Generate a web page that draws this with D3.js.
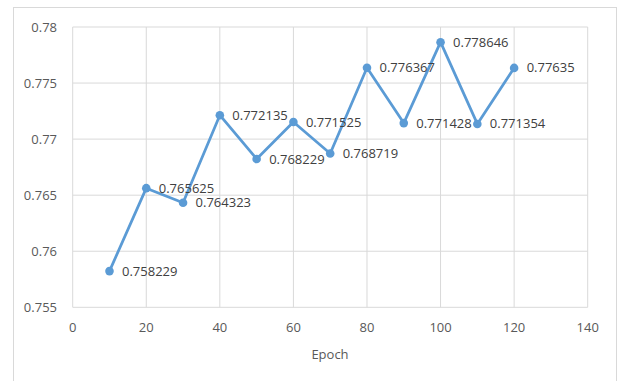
<!DOCTYPE html>
<html>
<head>
<meta charset="utf-8">
<script src="https://cdn.jsdelivr.net/npm/d3@7/dist/d3.min.js"></script>
<style>
html,body{margin:0;padding:0;background:#fff;}
svg{display:block;}
text{font-family:"Open Sans",sans-serif;}
</style>
</head>
<body>
<svg id="chart" width="618" height="381"></svg>
<script>
const epochs = [10, 20, 30, 40, 50, 60, 70, 80, 90, 100, 110, 120];
const values = [0.758229, 0.765625, 0.764323, 0.772135, 0.768229, 0.771525, 0.768719, 0.776367, 0.771428, 0.778646, 0.771354, 0.77635];
const labels = ["0.758229", "0.765625", "0.764323", "0.772135", "0.768229", "0.771525", "0.768719", "0.776367", "0.771428", "0.778646", "0.771354", "0.77635"];
const xTicks = [0, 20, 40, 60, 80, 100, 120, 140];
const yTicks = [0.755, 0.76, 0.765, 0.77, 0.775, 0.78];
const yTickLabels = ["0.755", "0.76", "0.765", "0.77", "0.775", "0.78"];
const xTitle = "Epoch";

const svg = d3.select("#chart");
// outer chart border
svg.append("rect").attr("x", 13.5).attr("y", 7.5).attr("width", 603).attr("height", 380)
  .attr("fill", "#fff").attr("stroke", "#d9d9d9").attr("stroke-width", 1);

const x = d3.scaleLinear().domain([0, 140]).range([72.7, 587.7]);
const y = d3.scaleLinear().domain([0.755, 0.78]).range([307.3, 27]);

const grid = svg.append("g");
grid.selectAll("line.h").data(yTicks).join("line")
  .attr("x1", x(0)).attr("x2", x(140))
  .attr("y1", d => y(d)).attr("y2", d => y(d))
  .attr("stroke", "#d9d9d9").attr("stroke-width", 1);
grid.selectAll("line.v").data(xTicks).join("line")
  .attr("y1", y(0.755)).attr("y2", y(0.78))
  .attr("x1", d => x(d)).attr("x2", d => x(d))
  .attr("stroke", "#d9d9d9").attr("stroke-width", 1);

// y axis labels
svg.append("g").selectAll("text").data(yTicks).join("text")
  .attr("x", 57).attr("y", d => y(d)).attr("dy", "0.35em")
  .attr("text-anchor", "end").attr("font-size", 13).attr("fill", "#595959")
  .text((d, i) => yTickLabels[i]);

// x axis labels
svg.append("g").selectAll("text").data(xTicks).join("text")
  .attr("x", d => x(d)).attr("y", 332)
  .attr("text-anchor", "middle").attr("font-size", 13).attr("fill", "#595959")
  .text(d => d);

svg.append("text").attr("x", 330).attr("y", 359).attr("text-anchor", "middle")
  .attr("font-size", 13).attr("fill", "#595959").text(xTitle);

const pts = epochs.map((e, i) => ({e, v: values[i], l: labels[i]}));
const line = d3.line().x(d => x(d.e)).y(d => y(d.v));
svg.append("path").datum(pts).attr("d", line)
  .attr("fill", "none").attr("stroke", "#5b9bd5").attr("stroke-width", 2.75)
  .attr("stroke-linejoin", "round");
svg.append("g").selectAll("circle").data(pts).join("circle")
  .attr("cx", d => x(d.e)).attr("cy", d => y(d.v)).attr("r", 4.3)
  .attr("fill", "#5b9bd5");
svg.append("g").selectAll("text").data(pts).join("text")
  .attr("x", d => x(d.e) + 12.5).attr("y", d => y(d.v)).attr("dy", "0.35em")
  .attr("font-size", 13).attr("fill", "#404040")
  .text(d => d.l);
</script>
</body>
</html>
